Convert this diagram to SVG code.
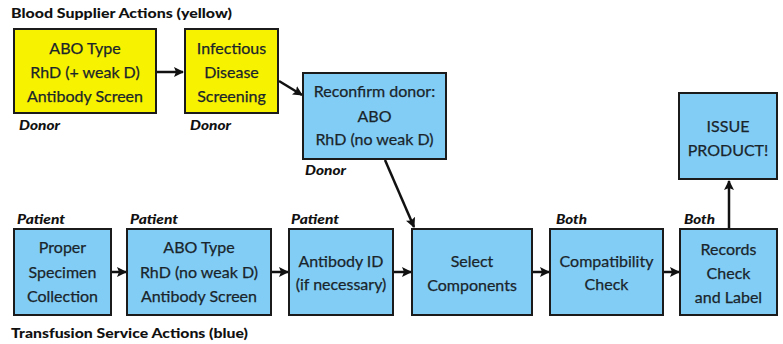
<svg xmlns="http://www.w3.org/2000/svg" width="783" height="344" viewBox="0 0 783 344">
  <defs>
    <marker id="arrow" viewBox="0 0 10 10" refX="9" refY="5" markerWidth="10" markerHeight="10" orient="auto" markerUnits="userSpaceOnUse">
      <path d="M0,0 L10,5 L0,10 L2,5 Z" fill="#111"/>
    </marker>
    <style>
      .box { stroke: #1b1b1b; stroke-width: 2; }
      .yellow { fill: #f7f200; }
      .blue { fill: #82cdf6; }
      .t { font-family: Lato, "Open Sans", sans-serif; font-size: 16px; fill: #1a252b; text-anchor: middle; stroke: #1a252b; stroke-width: 0.25; }
      .tag { font-family: Lato, "Open Sans", sans-serif; font-size: 13px; font-weight: 900; font-style: italic; fill: #111; }
      .title { font-family: Lato, "Open Sans", sans-serif; font-size: 14px; font-weight: 900; fill: #111; }
      .conn { stroke: #111; stroke-width: 2.5; fill: none; }
    </style>
  </defs>
  <rect width="783" height="344" fill="#fff"/>

  <text class="title" x="11" y="18" textLength="221" lengthAdjust="spacingAndGlyphs">Blood Supplier Actions (yellow)</text>
  <text class="title" x="11" y="338" textLength="237" lengthAdjust="spacingAndGlyphs">Transfusion Service Actions (blue)</text>

  <g id="connectors">
    <line class="conn" x1="157" y1="72" x2="183" y2="72" marker-end="url(#arrow)"/>
    <line class="conn" x1="279" y1="81" x2="302" y2="95" marker-end="url(#arrow)"/>
    <line class="conn" x1="385" y1="160" x2="414" y2="227" marker-end="url(#arrow)"/>
    <line class="conn" x1="112" y1="272" x2="126" y2="272" marker-end="url(#arrow)"/>
    <line class="conn" x1="272" y1="272" x2="288" y2="272" marker-end="url(#arrow)"/>
    <line class="conn" x1="394" y1="272" x2="411" y2="272" marker-end="url(#arrow)"/>
    <line class="conn" x1="533" y1="272" x2="549" y2="272" marker-end="url(#arrow)"/>
    <line class="conn" x1="664" y1="272" x2="679" y2="272" marker-end="url(#arrow)"/>
    <line class="conn" x1="729" y1="228" x2="729" y2="181" marker-end="url(#arrow)"/>
  </g>

  <g id="donor-typing">
    <rect class="box yellow" x="14" y="29" width="142" height="84"/>
    <text class="t" x="85" y="54">ABO Type</text>
    <text class="t" x="85" y="78">RhD (+ weak D)</text>
    <text class="t" x="85" y="102">Antibody Screen</text>
    <text class="tag" x="19" y="130" textLength="41" lengthAdjust="spacingAndGlyphs">Donor</text>
  </g>

  <g id="infectious-screening">
    <rect class="box yellow" x="185" y="29" width="93" height="84"/>
    <text class="t" x="231.5" y="54">Infectious</text>
    <text class="t" x="231.5" y="78">Disease</text>
    <text class="t" x="231.5" y="102">Screening</text>
    <text class="tag" x="190" y="130" textLength="41" lengthAdjust="spacingAndGlyphs">Donor</text>
  </g>

  <g id="reconfirm-donor">
    <rect class="box blue" x="303" y="73" width="143" height="86"/>
    <text class="t" x="374.5" y="97">Reconfirm donor:</text>
    <text class="t" x="374.5" y="122">ABO</text>
    <text class="t" x="374.5" y="145">RhD (no weak D)</text>
    <text class="tag" x="305" y="175" textLength="41" lengthAdjust="spacingAndGlyphs">Donor</text>
  </g>

  <g id="specimen-collection">
    <rect class="box blue" x="14" y="229" width="97" height="86"/>
    <text class="t" x="62.5" y="253">Proper</text>
    <text class="t" x="62.5" y="278">Specimen</text>
    <text class="t" x="62.5" y="302">Collection</text>
    <text class="tag" x="17" y="224" textLength="48" lengthAdjust="spacingAndGlyphs">Patient</text>
  </g>

  <g id="patient-typing">
    <rect class="box blue" x="127" y="229" width="144" height="86"/>
    <text class="t" x="199" y="253">ABO Type</text>
    <text class="t" x="199" y="278">RhD (no weak D)</text>
    <text class="t" x="199" y="302">Antibody Screen</text>
    <text class="tag" x="130" y="224" textLength="48" lengthAdjust="spacingAndGlyphs">Patient</text>
  </g>

  <g id="antibody-id">
    <rect class="box blue" x="289" y="229" width="104" height="86"/>
    <text class="t" x="341" y="267">Antibody ID</text>
    <text class="t" x="341" y="290">(if necessary)</text>
    <text class="tag" x="291" y="224" textLength="48" lengthAdjust="spacingAndGlyphs">Patient</text>
  </g>

  <g id="select-components">
    <rect class="box blue" x="412" y="229" width="120" height="86"/>
    <text class="t" x="472" y="267">Select</text>
    <text class="t" x="472" y="291">Components</text>
  </g>

  <g id="compatibility-check">
    <rect class="box blue" x="550" y="229" width="113" height="86"/>
    <text class="t" x="606.5" y="267">Compatibility</text>
    <text class="t" x="606.5" y="290">Check</text>
    <text class="tag" x="556" y="224" textLength="31" lengthAdjust="spacingAndGlyphs">Both</text>
  </g>

  <g id="records-check">
    <rect class="box blue" x="680" y="229" width="97" height="86"/>
    <text class="t" x="728.5" y="255">Records</text>
    <text class="t" x="728.5" y="279">Check</text>
    <text class="t" x="728.5" y="303">and Label</text>
    <text class="tag" x="684" y="224" textLength="31" lengthAdjust="spacingAndGlyphs">Both</text>
  </g>

  <g id="issue-product">
    <rect class="box blue" x="679" y="93" width="98" height="86"/>
    <text class="t" x="728" y="132">ISSUE</text>
    <text class="t" x="728" y="156">PRODUCT!</text>
  </g>
</svg>
